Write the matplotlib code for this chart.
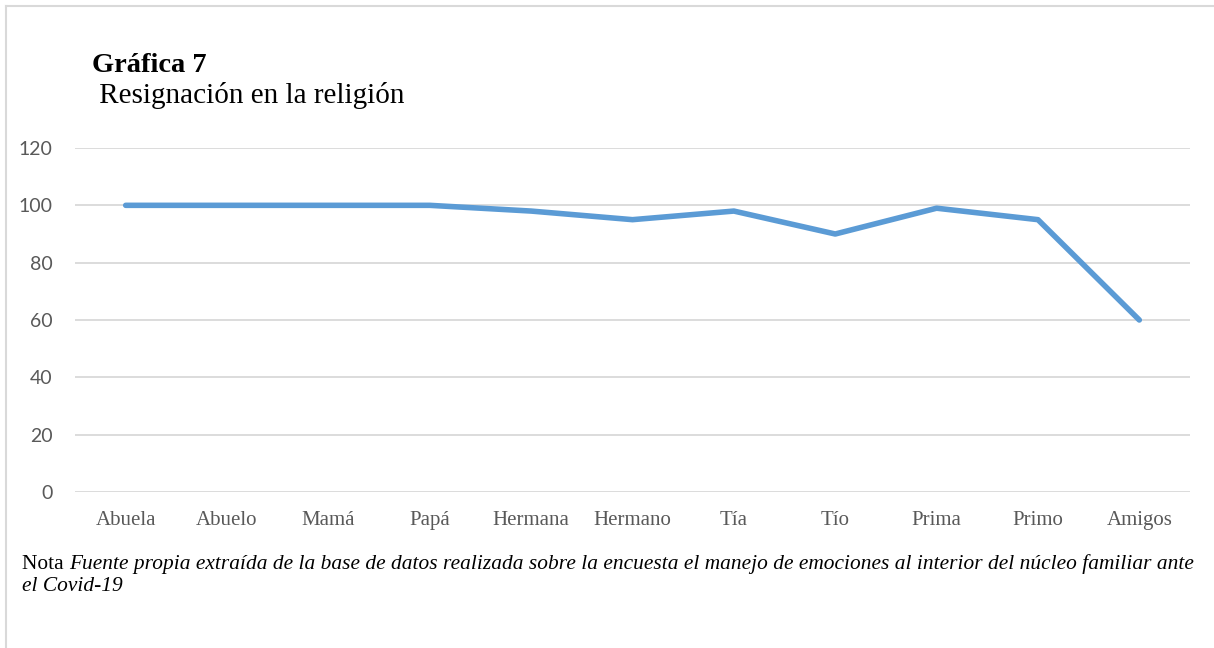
import matplotlib
matplotlib.use("Agg")
import matplotlib.pyplot as plt
from matplotlib.lines import Line2D

# Data
categorias = ['Abuela', 'Abuelo', 'Mamá', 'Papá', 'Hermana', 'Hermano',
              'Tía', 'Tío', 'Prima', 'Primo', 'Amigos']
valores = [100, 100, 100, 100, 98, 95, 98, 90, 99, 95, 60]
yticks = [0, 20, 40, 60, 80, 100, 120]

titulo = "Gráfica 7"
subtitulo = " Resignación en la religión"
nota = "Nota"
nota_italica_1 = ("Fuente propia extraída de la base de datos realizada sobre la encuesta "
                  "el manejo de emociones al interior del núcleo familiar ante")
nota_italica_2 = "el Covid-19"

W, H = 1214, 648
fig = plt.figure(figsize=(W / 100, H / 100), dpi=100)

# axes placement in pixels
left, right, bottom, top = 75, 1190, 492, 148
ax = fig.add_axes([left / W, 1 - bottom / H, (right - left) / W, (bottom - top) / H])

x = list(range(len(categorias)))
ax.plot(x, valores, color='#5B9BD5', lw=4, solid_joinstyle='round',
        solid_capstyle='round', zorder=3)

ax.set_xlim(-0.5, len(categorias) - 0.5)
ax.set_ylim(0, 120)
ax.set_yticks(yticks)
ax.set_xticks(x)
ax.set_xticklabels(categorias, fontfamily='Liberation Serif', fontsize=15, color='#595959')
ax.set_yticklabels([str(v) for v in yticks], fontfamily='Lato', fontsize=14, color='#595959')
ax.tick_params(axis='both', length=0)
ax.tick_params(axis='y', pad=16)
ax.tick_params(axis='x', pad=14)
ax.grid(axis='y', color='#D9D9D9', lw=1.3)
ax.set_axisbelow(True)
for s in ax.spines.values():
    s.set_visible(False)

# titles
fig.text(92 / W, 1 - 72 / H, titulo, fontfamily='Liberation Serif', fontweight='bold',
         fontsize=20.5, color='black', va='baseline')
fig.text(92 / W, 1 - 103 / H, subtitulo, fontfamily='Liberation Serif',
         fontsize=21, color='black', va='baseline')

# source note
t = fig.text(22 / W, 1 - 569 / H, nota + " ", fontfamily='Liberation Serif',
             fontsize=15.4, color='black', va='baseline')
fig.canvas.draw()
bb = t.get_window_extent()
fig.text(bb.x1 / W, 1 - 569 / H, nota_italica_1, fontfamily='Liberation Serif',
         fontstyle='italic', fontsize=15.4, color='black', va='baseline')
fig.text(22 / W, 1 - 591 / H, nota_italica_2, fontfamily='Liberation Serif',
         fontstyle='italic', fontsize=15.4, color='black', va='baseline')

# frame around the chart (top and left edges visible)
fig.add_artist(Line2D([6 / W, 6 / W], [0, 1 - 6 / H], color='#D9D9D9', lw=1.5,
                      transform=fig.transFigure))
fig.add_artist(Line2D([6 / W, 1213 / W], [1 - 6 / H, 1 - 6 / H], color='#D9D9D9', lw=1.5,
                      transform=fig.transFigure))

fig.savefig("out.png", dpi=100)
